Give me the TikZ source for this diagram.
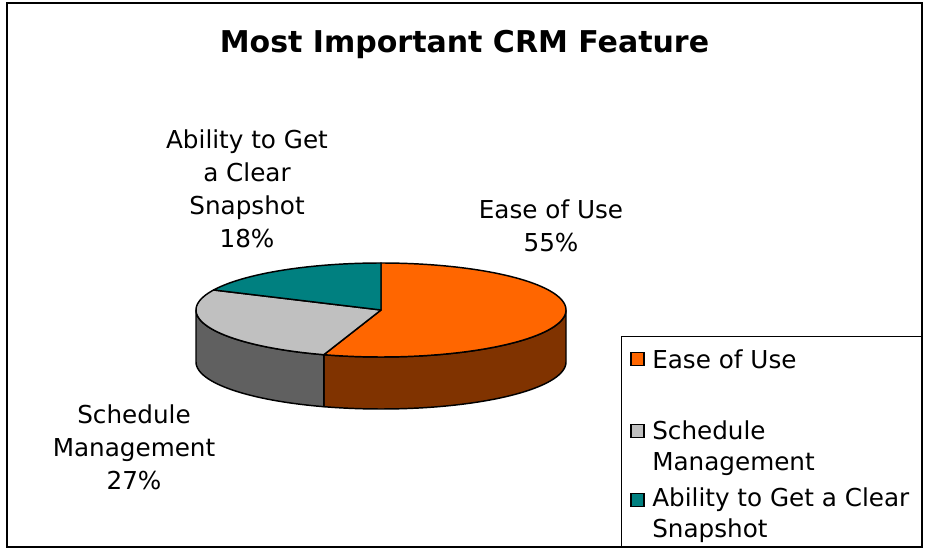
\documentclass[tikz,border=0pt]{standalone}
\usepackage{fontspec}
\setmainfont{DejaVu Sans}
\definecolor{easetop}{HTML}{FF6600}
\definecolor{easeside}{HTML}{803300}
\definecolor{schedtop}{HTML}{C0C0C0}
\definecolor{schedside}{HTML}{606060}
\definecolor{snaptop}{HTML}{008080}
\begin{document}
\begin{tikzpicture}[x=0.75pt,y=0.75pt,
  lbl/.style={font=\fontsize{18.5}{24.75}\selectfont, align=center, inner sep=0pt},
  legtext/.style={font=\fontsize{18.5}{23.25}\selectfont, align=left, anchor=west, inner sep=0pt},
  swatch/.style={draw=black, line width=1.1pt, minimum size=10pt, inner sep=0pt},
  slice/.style={draw=black, line width=1.1pt, line join=round},
  frame/.style={draw=black, line width=1.5pt},
  legframe/.style={draw=black, line width=0.75pt}]
\useasboundingbox (0,0) rectangle (925,550);

% chart frame and legend box
\draw[frame] (7,3) rectangle (922,547);
\draw[legframe] (621,3) |- (922,213);

% title
\node[font=\bfseries\fontsize{22.5}{26}\selectfont] (title) at (464.5,506) {Most Important CRM Feature};

% 3D pie: top ellipse centre (381,240), radii 185 x 47, depth 52
\coordinate (pc) at (381,240);
% visible side walls
\filldraw[slice, fill=easeside]
  plot[domain=-108:0, samples=60] ({381+185*cos(\x)},{240+47*sin(\x)})
  -- plot[domain=0:-108, samples=60] ({381+185*cos(\x)},{188+47*sin(\x)}) -- cycle;
\filldraw[slice, fill=schedside]
  plot[domain=180:252, samples=40] ({381+185*cos(\x)},{240+47*sin(\x)})
  -- plot[domain=252:180, samples=40] ({381+185*cos(\x)},{188+47*sin(\x)}) -- cycle;
% top faces
\filldraw[slice, fill=easetop] (pc)
  -- plot[domain=90:-108, samples=100] ({381+185*cos(\x)},{240+47*sin(\x)}) -- cycle;
\filldraw[slice, fill=schedtop] (pc)
  -- plot[domain=252:154.8, samples=60] ({381+185*cos(\x)},{240+47*sin(\x)}) -- cycle;
\filldraw[slice, fill=snaptop] (pc)
  -- plot[domain=154.8:90, samples=40] ({381+185*cos(\x)},{240+47*sin(\x)}) -- cycle;

% data labels
\node[lbl] (lease) at (551,324.5) {Ease of Use\\55\%};
\node[lbl] (lsnap) at (247,361) {Ability to Get\\a Clear\\Snapshot\\18\%};
\node[lbl] (lsched) at (134,103) {Schedule\\Management\\27\%};

% legend
\node[swatch, fill=easetop] (k1) at (637.5,191) {};
\node[swatch, fill=schedtop] (k2) at (637.5,119) {};
\node[swatch, fill=snaptop] (k3) at (637.5,50) {};
\node[legtext] (t1) at (652,191) {Ease of Use};
\node[legtext] (t2) at (652,102) {Schedule\\Management};
\node[legtext] (t3) at (652,35) {Ability to Get a Clear\\Snapshot};
\end{tikzpicture}
\end{document}
